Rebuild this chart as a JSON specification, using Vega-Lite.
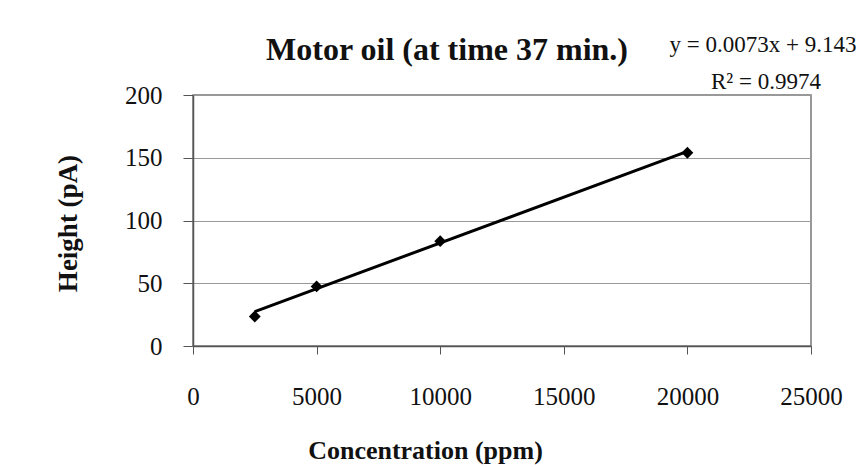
{
  "$schema": "https://vega.github.io/schema/vega-lite/v6.json",
  "autosize": {"type": "none"},
  "width": 618,
  "height": 251,
  "padding": {"left": 193, "top": 95, "right": 53, "bottom": 121},
  "background": "white",
  "config": {
    "font": "Liberation Serif",
    "view": {"stroke": "#777777", "strokeWidth": 1.5}
  },
  "title": {
    "text": "Motor oil (at time 37 min.)",
    "font": "Liberation Serif",
    "fontSize": 32,
    "fontWeight": "bold",
    "color": "#111111",
    "anchor": "middle",
    "dx": -55,
    "offset": 0,
    "dy": 33
  },
  "datasets": {
    "points": [
      {"conc": 2500, "height": 23.5},
      {"conc": 5000, "height": 47.5},
      {"conc": 10000, "height": 83.5},
      {"conc": 20000, "height": 154}
    ],
    "trend": [
      {"conc": 2500, "height": 27.4},
      {"conc": 20000, "height": 155.1}
    ],
    "labels": [
      {"conc": 23058, "height": 234.3, "label": "y = 0.0073x + 9.143"},
      {"conc": 23180, "height": 204.8, "label": "R² = 0.9974"}
    ]
  },
  "encoding": {
    "x": {
      "field": "conc",
      "type": "quantitative",
      "scale": {"domain": [0, 25000], "nice": false},
      "axis": {
        "title": "Concentration (ppm)",
        "titleFont": "Liberation Serif",
        "titleFontSize": 26,
        "titleFontWeight": "bold",
        "titleColor": "#111111",
        "titleX": 232,
        "titleY": 112,
        "titleBaseline": "alphabetic",
        "values": [0, 5000, 10000, 15000, 20000, 25000],
        "format": "d",
        "labelFont": "Liberation Serif",
        "labelFontSize": 25,
        "labelColor": "#111111",
        "labelPadding": 30,
        "labelFlush": false,
        "labelOverlap": false,
        "tickSize": 8,
        "tickColor": "#555555",
        "domainColor": "#555555",
        "domainWidth": 1.5,
        "grid": false
      }
    },
    "y": {
      "field": "height",
      "type": "quantitative",
      "scale": {"domain": [0, 200], "nice": false},
      "axis": {
        "title": "Height (pA)",
        "titleFont": "Liberation Serif",
        "titleFontSize": 27,
        "titleFontWeight": "bold",
        "titleColor": "#111111",
        "titleX": -125,
        "titleY": 128,
        "titleAlign": "center",
        "titleBaseline": "middle",
        "values": [0, 50, 100, 150, 200],
        "labelFont": "Liberation Serif",
        "labelFontSize": 25,
        "labelColor": "#111111",
        "labelPadding": 21,
        "labelFlush": false,
        "tickSize": 10,
        "tickColor": "#555555",
        "domainColor": "#555555",
        "domainWidth": 1.5,
        "grid": true,
        "gridColor": "#999999",
        "gridWidth": 1.2
      }
    }
  },
  "layer": [
    {
      "data": {"name": "trend"},
      "mark": {"type": "line", "color": "#000000", "strokeWidth": 3}
    },
    {
      "data": {"name": "points"},
      "mark": {"type": "point", "shape": "diamond", "filled": true, "color": "#000000", "size": 140, "opacity": 1}
    },
    {
      "data": {"name": "labels"},
      "mark": {"type": "text", "font": "Liberation Serif", "fontSize": 23, "color": "#111111", "align": "center", "baseline": "alphabetic", "clip": false},
      "encoding": {"text": {"field": "label"}}
    }
  ]
}
